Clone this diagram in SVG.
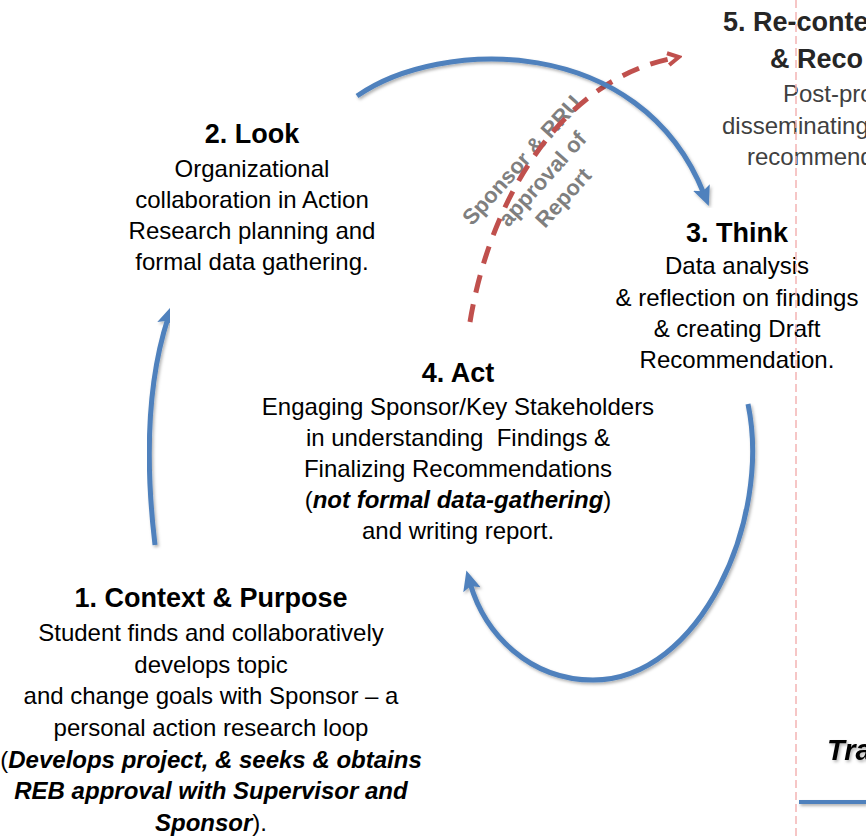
<svg xmlns="http://www.w3.org/2000/svg" width="866" height="838" viewBox="0 0 866 838">
<style>
text{font-family:"Liberation Sans",Arial,sans-serif;}
.t{font-size:27px;font-weight:bold;fill:#000;text-anchor:middle;}
.b{font-size:24px;fill:#000;text-anchor:middle;}
.bi{font-weight:bold;font-style:italic;}
.g5t{font-size:27px;font-weight:bold;fill:#262626;}
.g5b{font-size:24px;fill:#404040;}
.lbl{font-size:22px;font-weight:bold;fill:#7f7f7f;text-anchor:middle;}
.arc{fill:none;stroke:#4f81bd;stroke-width:5;}
.red{fill:none;stroke:#c0504d;stroke-width:5;stroke-dasharray:18 12;}
.sep{fill:none;stroke:#f4b4b4;stroke-width:1.5;stroke-dasharray:8 4;}
</style>
<defs>
<filter id="sh" x="-10%" y="-10%" width="120%" height="120%">
<feDropShadow dx="1.5" dy="2" stdDeviation="1.5" flood-color="#000" flood-opacity="0.3"/>
</filter>
<filter id="shl" filterUnits="userSpaceOnUse" x="790" y="790" width="80" height="25">
<feDropShadow dx="1.5" dy="2" stdDeviation="1.5" flood-color="#000" flood-opacity="0.3"/>
</filter>
<marker id="ab" viewBox="0 0 20 18" refX="7" refY="9" markerWidth="20" markerHeight="18" markerUnits="userSpaceOnUse" orient="auto">
<path d="M0,0 L20,9 L0,18 L4,9 z" fill="#4f81bd"/>
</marker>
<marker id="ar" viewBox="0 0 16 16" refX="8" refY="8" markerWidth="16" markerHeight="16" markerUnits="userSpaceOnUse" orient="auto">
<path d="M2,2 L13,8 L2,14" fill="none" stroke="#c0504d" stroke-width="4" stroke-dasharray="none"/>
</marker>
</defs>

<g id="node-label">
<g transform="translate(548,184) rotate(-48)">
<text class="lbl" x="0" y="-28">Sponsor &amp; RRU</text>
<text class="lbl" x="0" y="0">approval of</text>
<text class="lbl" x="0" y="28">Report</text>
</g>
</g>

<g id="connectors">
<path id="c-4-5" class="red" d="M470,322 C490,200 560,80 674,58" marker-end="url(#ar)"/>
<path id="c-2-3" class="arc" filter="url(#sh)" d="M357,96 C440,38 640,33 704,194" marker-end="url(#ab)"/>
<path id="c-1-2" class="arc" filter="url(#sh)" d="M155,545 C145,460 148,380 168,318" marker-end="url(#ab)"/>
<path id="c-3-4" class="arc" filter="url(#sh)" d="M748,404 C772,520 700,680 593,680 C530,680 485,635 470,583" marker-end="url(#ab)"/>
</g>

<g id="node-1">
<text class="t" x="211" y="607">1. Context &amp; Purpose</text>
<text class="b" x="211" y="641">Student finds and collaboratively</text>
<text class="b" x="211" y="673">develops topic</text>
<text class="b" x="211" y="704">and change goals with Sponsor – a</text>
<text class="b" x="211" y="736">personal action research loop</text>
<text class="b" x="211" y="768">(<tspan class="bi">Develops project, &amp; seeks &amp; obtains</tspan></text>
<text class="b bi" x="211" y="799">REB approval with Supervisor and</text>
<text class="b" x="211" y="831"><tspan class="bi">Sponsor</tspan>).</text>
</g>

<g id="node-2">
<text class="t" x="252" y="143">2. Look</text>
<text class="b" x="252" y="177">Organizational</text>
<text class="b" x="252" y="208">collaboration in Action</text>
<text class="b" x="252" y="239">Research planning and</text>
<text class="b" x="252" y="270">formal data gathering.</text>
</g>

<g id="node-3">
<text class="t" x="737" y="242">3. Think</text>
<text class="b" x="737" y="274">Data analysis</text>
<text class="b" x="737" y="306">&amp; reflection on findings</text>
<text class="b" x="737" y="337">&amp; creating Draft</text>
<text class="b" x="737" y="368">Recommendation.</text>
</g>

<g id="node-4">
<text class="t" x="458" y="382">4. Act</text>
<text class="b" x="458" y="415">Engaging Sponsor/Key Stakeholders</text>
<text class="b" x="458" y="446" xml:space="preserve">in understanding  Findings &amp;</text>
<text class="b" x="458" y="477">Finalizing Recommendations</text>
<text class="b" x="458" y="508">(<tspan class="bi">not formal data-gathering</tspan>)</text>
<text class="b" x="458" y="539">and writing report.</text>
</g>

<g id="node-5">
<text class="g5t" x="723" y="31">5. Re-conte</text>
<text class="g5t" x="770" y="68">&amp; Reco</text>
<text class="g5b" x="783" y="102">Post-pro</text>
<text class="g5b" x="722" y="134">disseminating</text>
<text class="g5b" x="747" y="165">recommend</text>
</g>

<g id="node-6">
<text x="827" y="760" style="font-size:29px;font-weight:bold;font-style:italic;fill:#000" filter="url(#sh)">Tra</text>
<rect x="799" y="800" width="67" height="4" fill="#4f81bd" filter="url(#shl)"/>
</g>

<g id="separator">
<line class="sep" x1="796" y1="0" x2="796" y2="838"/>
</g>
</svg>
